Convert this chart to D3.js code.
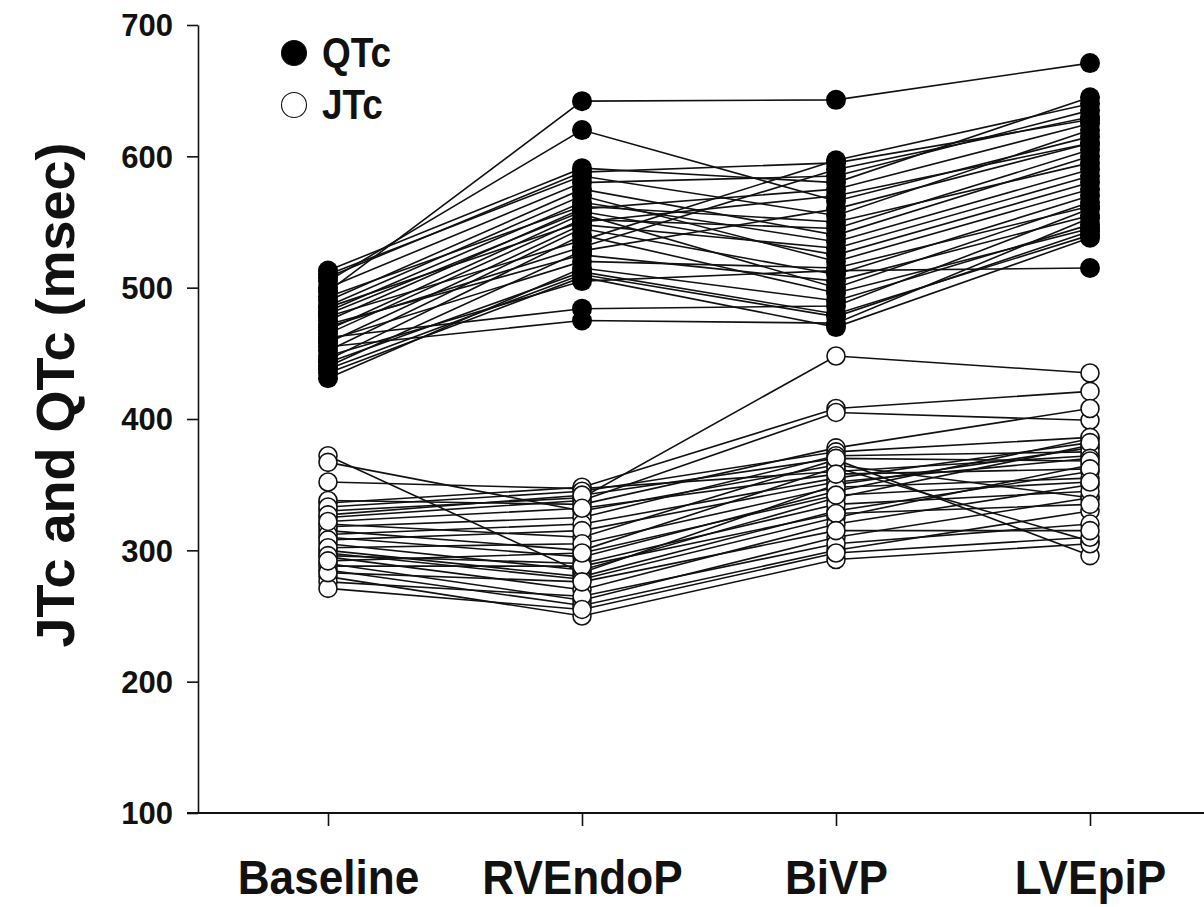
<!DOCTYPE html>
<html>
<head>
<meta charset="utf-8">
<script src="https://cdn.jsdelivr.net/npm/d3@7"></script>
<style>
  body { margin: 0; background: #fff; }
  svg { display: block; font-family: "Liberation Sans", Arial, sans-serif; font-weight: bold; }
</style>
</head>
<body>
<svg id="chart" width="1204" height="907"></svg>
<script>
// categories (pacing modes)
const categorias = ['Baseline', 'RVEndoP', 'BiVP', 'LVEpiP'];
const yTicks = [100, 200, 300, 400, 500, 600, 700];

// QTc per subject, one array per mode (msec)
const qtcBaseline = [497, 505, 462, 455, 478, 470, 448, 435, 513, 510, 490, 486, 482, 475, 468, 465, 458, 452, 445, 440, 431, 500, 493, 480, 472, 460, 443, 438, 508, 485];
const qtcRVEndoP  = [642, 620, 484, 475, 536, 531, 505, 508, 591, 585, 575, 570, 565, 560, 556, 552, 548, 545, 540, 528, 515, 580, 562, 558, 525, 520, 512, 510, 588, 550];
const qtcBiVP     = [643, 566, 486, 473, 597, 590, 513, 470, 580, 555, 540, 520, 535, 575, 500, 545, 530, 510, 496, 560, 490, 585, 550, 525, 505, 515, 480, 478, 595, 570];
const qtcLVEpiP   = [671, 615, 560, 553, 640, 630, 515, 538, 645, 620, 600, 575, 590, 625, 565, 605, 585, 570, 545, 610, 548, 635, 595, 580, 555, 562, 540, 543, 628, 610];

// JTc per subject (msec)
const jtcBaseline = [372, 367, 352, 330, 336, 325, 338, 320, 315, 310, 305, 300, 298, 295, 290, 285, 280, 276, 271, 333, 318, 312, 308, 302, 296, 288, 283, 327, 322, 292];
const jtcRVEndoP  = [283, 330, 347, 340, 348, 338, 335, 310, 300, 295, 285, 280, 278, 270, 262, 258, 250, 265, 255, 345, 325, 320, 315, 305, 290, 288, 276, 342, 332, 298];
const jtcBiVP     = [350, 365, 360, 448, 408, 405, 378, 369, 363, 345, 340, 330, 325, 320, 310, 300, 293, 305, 298, 375, 372, 355, 352, 348, 335, 328, 315, 370, 358, 342];
const jtcLVEpiP   = [378, 340, 372, 435, 421, 399, 408, 296, 307, 385, 380, 360, 365, 350, 340, 330, 305, 320, 310, 386, 375, 382, 370, 355, 345, 335, 315, 368, 362, 352];

const svg = d3.select('#chart');

const x = d3.scalePoint().domain(categorias).range([328, 1090]);
const y = d3.scaleLinear().domain([100, 700]).range([813, 25]);
const xEjeIzq = 198;

// armar sujetos
function sujetos(series) {
  return series[0].map((_, i) => series.map((s, j) => ({ cat: categorias[j], v: s[i] })));
}
const qtc = sujetos([qtcBaseline, qtcRVEndoP, qtcBiVP, qtcLVEpiP]);
const jtc = sujetos([jtcBaseline, jtcRVEndoP, jtcBiVP, jtcLVEpiP]);

const linea = d3.line().x(d => x(d.cat)).y(d => y(d.v));

// eje Y
const ejeY = svg.append('g')
  .attr('transform', `translate(${xEjeIzq},0)`)
  .call(d3.axisLeft(y).tickValues(yTicks).tickSize(11).tickSizeOuter(0).tickPadding(14));
ejeY.select('.domain').attr('stroke', '#111').attr('stroke-width', 1.6);
ejeY.selectAll('.tick line').attr('stroke', '#111').attr('stroke-width', 1.6);
ejeY.selectAll('.tick text')
  .attr('fill', '#111')
  .style('font-size', '31px')
  .style('font-weight', 'bold')
  .attr('dy', '0.35em');

// eje X
const ejeX = svg.append('g')
  .attr('transform', `translate(0,${y(100)})`)
  .call(d3.axisBottom(x).tickSize(13).tickSizeOuter(0).tickPadding(0));
ejeX.select('.domain').remove();
ejeX.append('line')
  .attr('x1', xEjeIzq - 11).attr('x2', 1204)
  .attr('stroke', '#111').attr('stroke-width', 2.2);
ejeX.selectAll('.tick line').attr('stroke', '#111').attr('stroke-width', 1.6);
ejeX.selectAll('.tick text')
  .attr('fill', '#111')
  .attr('y', 0)
  .attr('dy', 0)
  .attr('transform', 'translate(0,81) scale(0.92,1)')
  .style('font-size', '48px')
  .style('font-weight', 'bold');

// titulo eje Y
svg.append('text')
  .attr('transform', 'translate(74,395) rotate(-90)')
  .attr('text-anchor', 'middle')
  .attr('fill', '#111')
  .style('font-size', '54px')
  .text('JTc and QTc (msec)');

// lineas
const lineas = svg.append('g').attr('fill', 'none').attr('stroke', '#111').attr('stroke-width', 1.6);
lineas.selectAll('.qtc').data(qtc).enter().append('path').attr('class', 'qtc').attr('d', linea);
lineas.selectAll('.jtc').data(jtc).enter().append('path').attr('class', 'jtc').attr('d', linea);

// puntos QTc (rellenos)
svg.append('g').selectAll('circle')
  .data(qtc.flat()).enter().append('circle')
  .attr('cx', d => x(d.cat)).attr('cy', d => y(d.v))
  .attr('r', 10).attr('fill', '#000');

// puntos JTc (abiertos)
svg.append('g').selectAll('circle')
  .data(jtc.flat()).enter().append('circle')
  .attr('cx', d => x(d.cat)).attr('cy', d => y(d.v))
  .attr('r', 9).attr('fill', '#fff').attr('stroke', '#111').attr('stroke-width', 1.6);

// leyenda
const leyenda = [
  { nombre: 'QTc', relleno: '#000' },
  { nombre: 'JTc', relleno: '#fff' }
];
const ley = svg.append('g').selectAll('g').data(leyenda).enter().append('g')
  .attr('transform', (d, i) => `translate(294,${53 + i * 52})`);
ley.append('circle').attr('r', 12.5)
  .attr('fill', d => d.relleno).attr('stroke', '#111').attr('stroke-width', 1.1);
ley.append('text')
  .attr('transform', 'translate(28,14) scale(0.88,1)')
  .attr('fill', '#111')
  .style('font-size', '42px')
  .text(d => d.nombre);
</script>
</body>
</html>
